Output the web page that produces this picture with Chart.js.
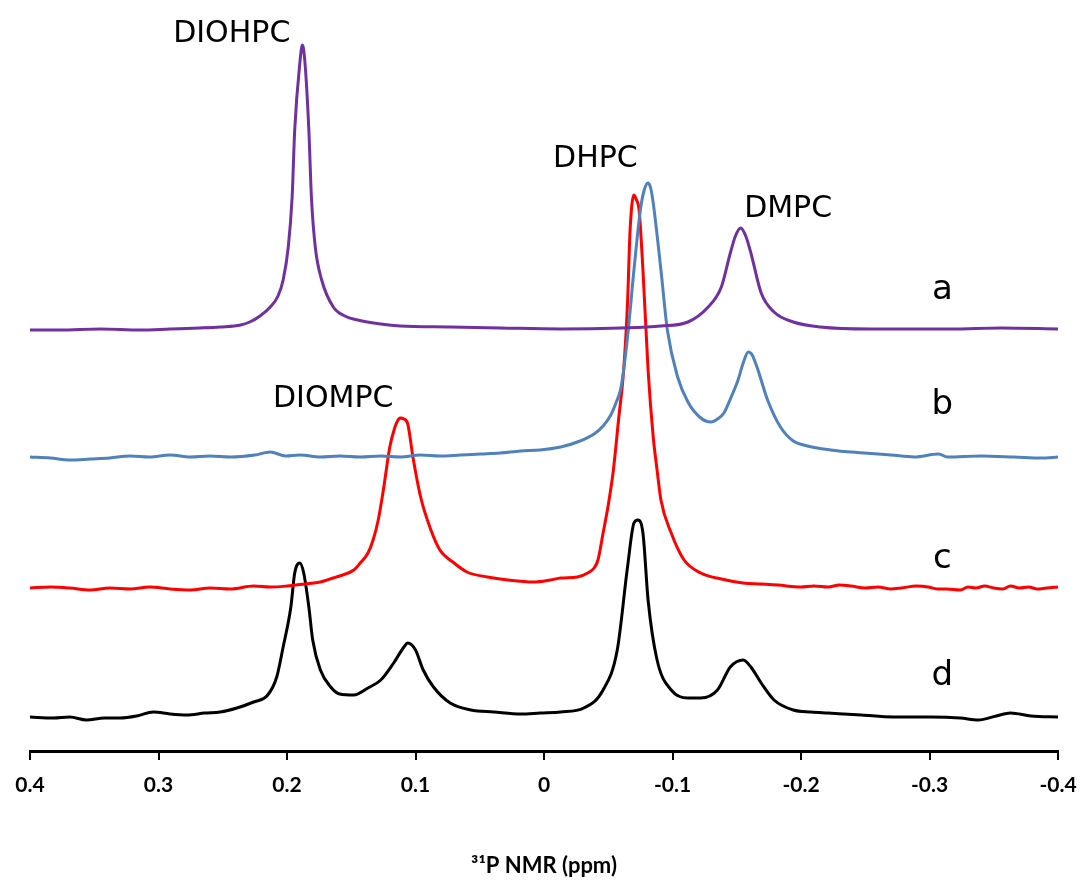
<!DOCTYPE html>
<html>
<head>
<meta charset="utf-8">
<script src="https://cdn.jsdelivr.net/npm/chart.js@4.4.0/dist/chart.umd.min.js"></script>
<style>
  html, body { margin: 0; padding: 0; background: #ffffff; }
  #wrap { width: 1081px; height: 888px; }
</style>
</head>
<body>
<div id="wrap"><canvas id="nmrChart" width="1081" height="888"></canvas></div>
<script>
// 31P chemical shift (ppm) and intensity above each trace's own baseline
const ppmA = [0.400, 0.377, 0.345, 0.314, 0.291, 0.268, 0.252, 0.236, 0.229, 0.221, 0.213, 0.207, 0.203, 0.199, 0.196, 0.194, 0.190, 0.188, 0.186, 0.183, 0.181, 0.178, 0.173, 0.164, 0.155, 0.145, 0.127, 0.112, 0.073, 0.034, -0.013, -0.060, -0.091, -0.112, -0.127, -0.138, -0.145, -0.149, -0.153, -0.157, -0.161, -0.169, -0.179, -0.194, -0.215, -0.254, -0.317, -0.356, -0.400];
const intA = [-2, -2, -1, -2, -1, 0, 1, 3, 6, 12, 21, 32, 48, 81, 131, 198, 265, 283, 265, 198, 131, 81, 48, 21, 12, 8, 4, 2, 1, 0, -1, 0, 2, 6, 20, 41, 75, 92, 100, 92, 75, 35, 16, 6, 1, -1, -1, 0, -1];

const ppmB = [0.400, 0.384, 0.369, 0.353, 0.338, 0.322, 0.307, 0.291, 0.275, 0.260, 0.244, 0.225, 0.213, 0.201, 0.190, 0.174, 0.159, 0.143, 0.127, 0.112, 0.096, 0.081, 0.065, 0.049, 0.034, 0.018, 0.003, -0.013, -0.026, -0.039, -0.046, -0.052, -0.056, -0.060, -0.065, -0.070, -0.075, -0.078, -0.081, -0.083, -0.085, -0.091, -0.096, -0.104, -0.112, -0.122, -0.130, -0.135, -0.140, -0.145, -0.151, -0.155, -0.159, -0.162, -0.166, -0.174, -0.184, -0.194, -0.202, -0.223, -0.249, -0.270, -0.288, -0.307, -0.314, -0.340, -0.366, -0.387, -0.400];
const intB = [0, -1, -3, -2, -1, 1, 0, 2, 0, 1, 0, 2, 5, 1, 2, 0, 1, 0, 1, 0, 2, 1, 2, 3, 4, 6, 7, 10, 15, 23, 31, 42, 54, 70, 120, 187, 247, 267, 274, 269, 254, 187, 127, 80, 55, 39, 35, 38, 44, 58, 77, 94, 105, 102, 89, 57, 30, 16, 12, 7, 4, 2, 0, 3, 0, 1, 0, -1, 0];

const ppmC = [0.400, 0.384, 0.369, 0.353, 0.338, 0.322, 0.307, 0.291, 0.275, 0.260, 0.244, 0.226, 0.213, 0.200, 0.186, 0.174, 0.164, 0.159, 0.148, 0.143, 0.137, 0.133, 0.129, 0.125, 0.120, 0.116, 0.114, 0.112, 0.109, 0.106, 0.102, 0.096, 0.088, 0.081, 0.070, 0.060, 0.044, 0.028, 0.008, -0.005, -0.013, -0.026, -0.034, -0.039, -0.042, -0.046, -0.050, -0.054, -0.058, -0.062, -0.065, -0.067, -0.070, -0.072, -0.074, -0.077, -0.081, -0.085, -0.088, -0.091, -0.099, -0.109, -0.122, -0.138, -0.155, -0.169, -0.182, -0.200, -0.210, -0.221, -0.230, -0.239, -0.250, -0.260, -0.270, -0.278, -0.290, -0.299, -0.306, -0.313, -0.324, -0.330, -0.336, -0.343, -0.350, -0.357, -0.363, -0.370, -0.377, -0.384, -0.391, -0.400];
const intC = [0, 1, 0, -2, 0, -1, 1, -1, -2, 0, -1, 2, 1, 2, 4, 6, 10, 12, 18, 25, 35, 48, 68, 98, 141, 161, 167, 170, 169, 164, 131, 91, 58, 38, 25, 16, 11, 8, 6, 8, 10, 11, 15, 20, 28, 55, 83, 118, 168, 218, 285, 358, 393, 388, 378, 318, 218, 151, 118, 88, 55, 28, 15, 9, 5, 4, 3, 1, 2, 1, 3, 2, 0, 1, -1, 0, 2, 1, -1, -1, -2, 1, 0, 2, 0, -1, 2, 0, 1, -1, 0, 1];

const ppmD = [0.400, 0.382, 0.369, 0.356, 0.342, 0.330, 0.317, 0.304, 0.291, 0.278, 0.264, 0.252, 0.239, 0.226, 0.215, 0.208, 0.203, 0.197, 0.194, 0.190, 0.187, 0.183, 0.180, 0.174, 0.166, 0.159, 0.148, 0.137, 0.127, 0.117, 0.109, 0.106, 0.100, 0.094, 0.086, 0.073, 0.057, 0.039, 0.018, 0.003, -0.013, -0.031, -0.046, -0.057, -0.065, -0.070, -0.073, -0.077, -0.081, -0.088, -0.099, -0.112, -0.122, -0.135, -0.145, -0.155, -0.161, -0.169, -0.179, -0.194, -0.208, -0.221, -0.247, -0.272, -0.301, -0.324, -0.338, -0.352, -0.363, -0.379, -0.400];
const intD = [0, -1, 0, -3, -1, -1, 1, 5, 3, 2, 4, 5, 9, 15, 22, 40, 70, 110, 144, 154, 144, 110, 77, 47, 30, 23, 22, 29, 37, 54, 70, 74, 67, 47, 30, 14, 7, 5, 3, 4, 5, 9, 27, 67, 150, 194, 197, 184, 117, 57, 27, 19, 19, 27, 50, 57, 50, 34, 17, 7, 5, 4, 2, 0, 0, -1, -3, 1, 4, 1, 0];

const traceNames   = ["a", "b", "c", "d"];
const stackOffsets = [423, 294, 163, 34];
const traceColors  = ["#7030a0", "#4f81bd", "#ff0000", "#000000"];

const peakNames  = ["DIOHPC", "DHPC", "DMPC", "DIOMPC"];
const peakTextX  = [0.243, -0.040, -0.190, 0.164];
const peakTextY  = [709, 584, 534, 344];
const traceTextX = -0.310;
const traceTextY = [452, 337, 183, 66];

const tickValues = [0.4, 0.3, 0.2, 0.1, 0, -0.1, -0.2, -0.3, -0.4];

function buildSeries(ppm, intensity, offset) {
  return ppm.map((p, i) => ({ x: p, y: intensity[i] + offset }));
}

const series = [
  buildSeries(ppmA, intA, stackOffsets[0]),
  buildSeries(ppmB, intB, stackOffsets[1]),
  buildSeries(ppmC, intC, stackOffsets[2]),
  buildSeries(ppmD, intD, stackOffsets[3]),
];

const textPlugin = {
  id: "spectrumText",
  afterDatasetsDraw(chart) {
    const { ctx, scales: { x, y } } = chart;
    ctx.save();
    ctx.fillStyle = "#000000";
    ctx.textAlign = "center";
    ctx.textBaseline = "alphabetic";
    ctx.font = "30px 'DejaVu Sans'";
    peakNames.forEach((name, i) => {
      ctx.fillText(name, x.getPixelForValue(peakTextX[i]), y.getPixelForValue(peakTextY[i]));
    });
    ctx.font = "34px 'DejaVu Sans'";
    traceNames.forEach((name, i) => {
      ctx.fillText(name, x.getPixelForValue(traceTextX), y.getPixelForValue(traceTextY[i]));
    });
    ctx.restore();
  },
};

new Chart(document.getElementById("nmrChart"), {
  type: "line",
  data: {
    datasets: series.map((data, i) => ({
      label: traceNames[i],
      data,
      borderColor: traceColors[i],
      borderWidth: 3,
      pointRadius: 0,
      fill: false,
      cubicInterpolationMode: "monotone",
    })),
  },
  options: {
    responsive: false,
    animation: false,
    events: [],
    layout: { padding: { left: 30, right: 23, top: 0, bottom: 0 } },
    plugins: {
      legend: { display: false },
      tooltip: { enabled: false },
    },
    scales: {
      x: {
        type: "linear",
        reverse: true,
        min: -0.4,
        max: 0.4,
        afterFit: (scale) => {
          scale.height = 137;
          scale.paddingLeft = 0;
          scale.paddingRight = 0;
        },
        afterBuildTicks: (scale) => {
          scale.ticks = tickValues.map((v) => ({ value: v }));
        },
        grid: {
          drawOnChartArea: false,
          drawTicks: true,
          tickLength: 9,
          color: "#000000",
          lineWidth: 2,
        },
        border: { display: true, color: "#000000", width: 3 },
        ticks: {
          color: "#000000",
          padding: 13,
          maxRotation: 0,
          font: { family: "Lato", size: 21, weight: "bold" },
          callback: (v) => String(Math.round(v * 10) / 10),
        },
        title: {
          display: true,
          text: "³¹P NMR (ppm)",
          color: "#000000",
          font: { family: "Lato", size: 22, weight: "bold" },
          padding: { top: 0, bottom: 9 },
        },
      },
      y: {
        display: false,
        min: 0,
        max: 751,
      },
    },
  },
  plugins: [textPlugin],
});
</script>
</body>
</html>
